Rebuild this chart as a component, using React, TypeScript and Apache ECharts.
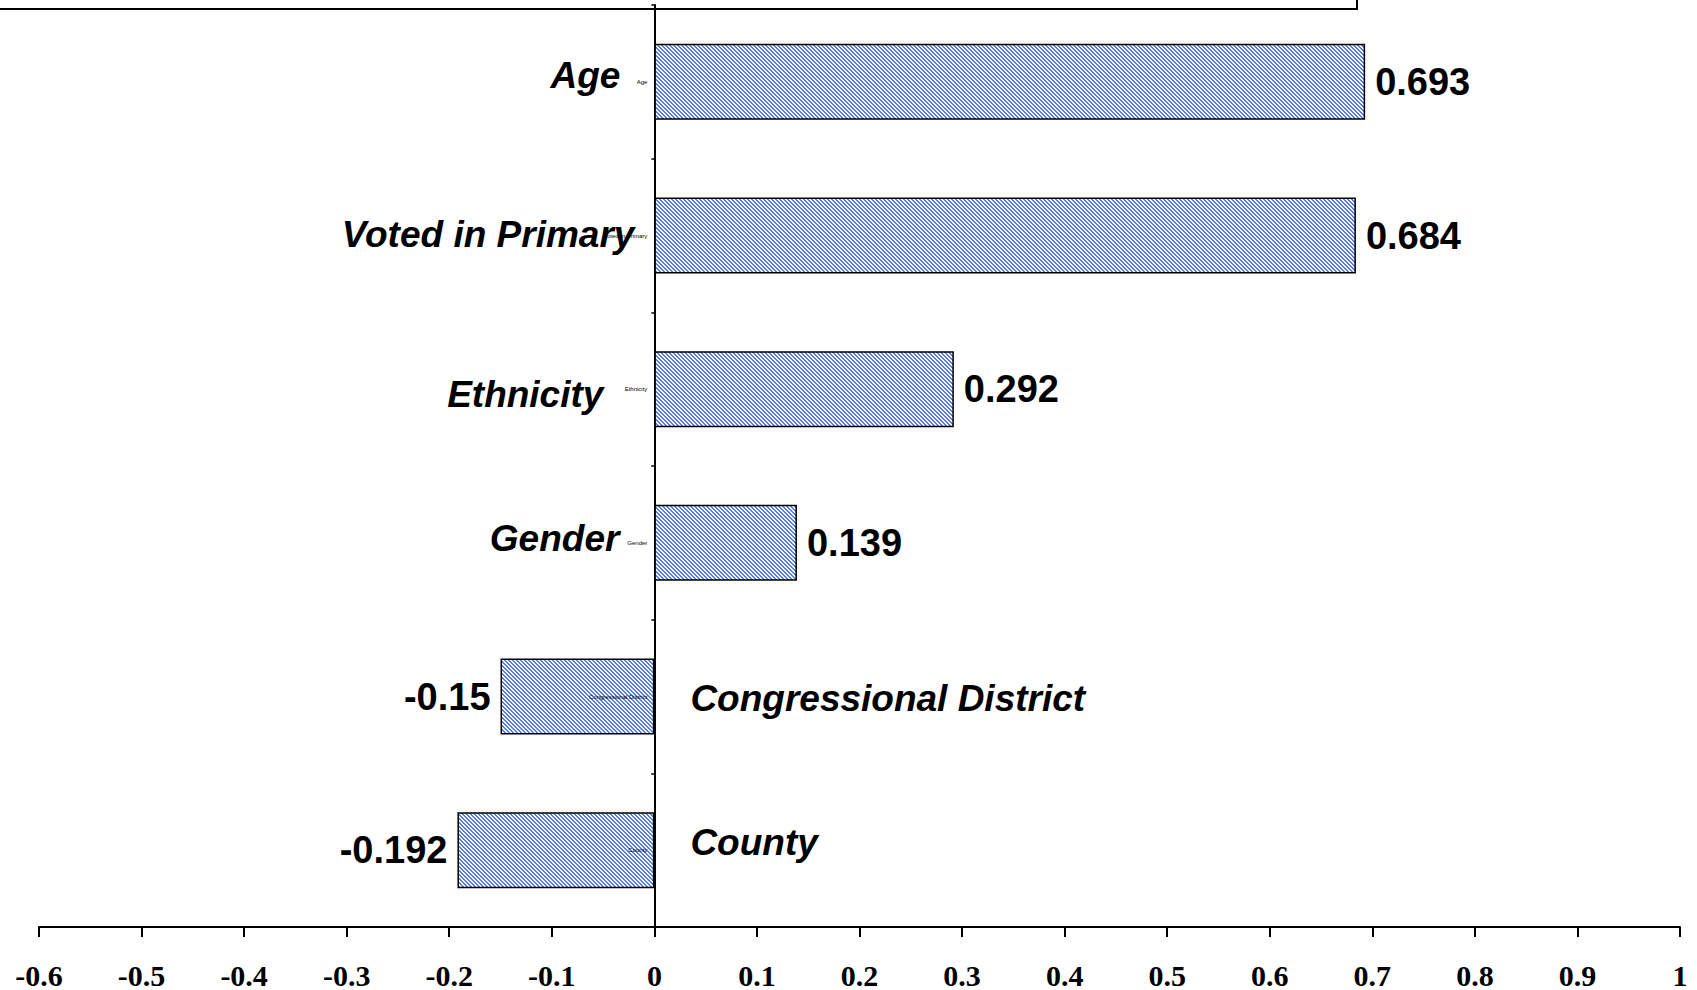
import React, { useEffect, useRef } from "react";
import * as echarts from "echarts";

const categories = ["Age", "Voted in Primary", "Ethnicity", "Gender", "Congressional District", "County"];
const values = [0.693, 0.684, 0.292, 0.139, -0.15, -0.192];
const xMin = -0.6;
const xMax = 1;
const xStep = 0.1;

// label styling nudges (distance from axis, vertical shift) for the big category names
const nameDistance = [34, 20, 51, 35, 36, 36];
const nameShift = [-6, -1, 5, -4, 2, -8];

function makePattern(): HTMLCanvasElement {
  const c = document.createElement("canvas");
  c.width = 4;
  c.height = 4;
  const ctx = c.getContext("2d")!;
  for (let y = 0; y < 4; y++) {
    for (let x = 0; x < 4; x++) {
      const k = (((x - y) % 4) + 4) % 4;
      ctx.fillStyle = k < 2 ? "#5a7fe0" : "#f4f7fd";
      ctx.fillRect(x, y, 1, 1);
    }
  }
  return c;
}

export default function App() {
  const ref = useRef<HTMLDivElement>(null);
  useEffect(() => {
    if (!ref.current) return;
    const chart = echarts.init(ref.current, null, { renderer: "svg" });
    const pattern = { image: makePattern(), repeat: "repeat", imageWidth: 4, imageHeight: 4 };
    const sans = 'Arial, "Liberation Sans", sans-serif';
    const serif = '"Times New Roman", "Liberation Serif", serif';
    chart.setOption({
      animation: false,
      backgroundColor: "#ffffff",
      grid: { left: 39, right: 17, top: 5, bottom: 63, containLabel: false, outerBoundsMode: "none" },
      xAxis: {
        type: "value",
        min: xMin,
        max: xMax,
        interval: xStep,
        axisLine: { show: true, lineStyle: { color: "#000", width: 2 } },
        axisTick: { show: true, inside: false, length: 10, lineStyle: { color: "#000", width: 2 } },
        splitLine: { show: false },
        axisLabel: {
          color: "#000",
          fontFamily: serif,
          fontWeight: "bold",
          fontSize: 30,
          margin: 33,
          formatter: (v: number) => String(Math.round(v * 10) / 10),
        },
      },
      yAxis: {
        type: "category",
        inverse: true,
        data: categories,
        axisLine: { show: true, onZero: true, lineStyle: { color: "#000", width: 2 } },
        axisTick: { show: true, length: 3, lineStyle: { color: "#000", width: 1.5 } },
        axisLabel: { show: false },
        splitLine: { show: false },
      },
      graphic: [
        {
          type: "rect",
          shape: { x: -10, y: -60, width: 1367, height: 69 },
          style: { fill: "none", stroke: "#000", lineWidth: 2 },
          z: 100,
        },
      ],
      series: [
        {
          type: "bar",
          barWidth: "49.5%",
          data: values.map((v) => ({
            value: v,
            label: { position: v >= 0 ? "right" : "left" },
          })),
          itemStyle: { color: pattern, borderColor: "#000", borderWidth: 1.5 },
          label: {
            show: true,
            distance: 10,
            color: "#000",
            fontFamily: sans,
            fontWeight: "bold",
            fontSize: 38,
            formatter: (p: any) => String(p.value),
          },
          z: 2,
        },
        {
          type: "bar",
          barWidth: "49.5%",
          barGap: "-100%",
          silent: true,
          data: values.map((v, i) => ({
            value: v,
            label: {
              position: v >= 0 ? "left" : "right",
              distance: nameDistance[i],
              offset: [0, nameShift[i]],
            },
          })),
          itemStyle: { color: "rgba(0,0,0,0)", borderWidth: 0 },
          label: {
            show: true,
            color: "#000",
            fontFamily: sans,
            fontWeight: "bold",
            fontStyle: "italic",
            fontSize: 37,
            formatter: (p: any) => categories[p.dataIndex],
          },
          z: 3,
        },
        {
          type: "bar",
          barWidth: "49.5%",
          barGap: "-100%",
          silent: true,
          data: values.map((v) => ({
            value: v,
            label: { position: v >= 0 ? "left" : "insideRight" },
          })),
          itemStyle: { color: "rgba(0,0,0,0)", borderWidth: 0 },
          label: {
            show: true,
            distance: 7,
            color: "#000",
            fontFamily: sans,
            fontSize: 6,
            formatter: (p: any) => categories[p.dataIndex],
          },
          z: 4,
        },
      ],
    });
    return () => chart.dispose();
  }, []);
  return (
    <div
      ref={ref}
      style={{ position: "fixed", left: 0, top: 0, width: 1697, height: 990, background: "#fff" }}
    />
  );
}
